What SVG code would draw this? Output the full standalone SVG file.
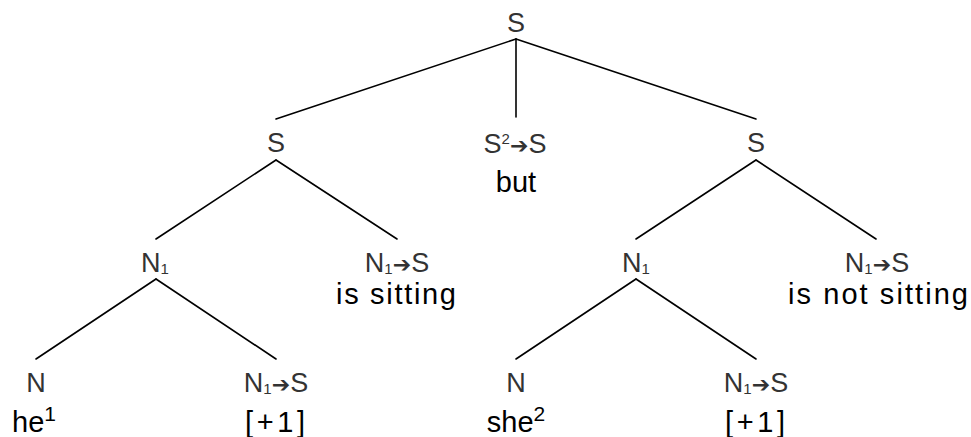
<svg xmlns="http://www.w3.org/2000/svg" width="971" height="437" viewBox="0 0 971 437">
<style>
.lab{font-family:"Liberation Sans",Arial,sans-serif;font-size:27px;fill:#333;text-anchor:middle}
.word{font-family:"Liberation Sans",Arial,sans-serif;font-size:29px;fill:#000;text-anchor:middle}
.sub{font-size:15px}
.sup{font-size:15px}
.wsup{font-size:21px}
.arr{font-family:"DejaVu Sans",sans-serif;font-size:22px}
#edges line{stroke:#000;stroke-width:1.6;stroke-linecap:round}
</style>
<rect width="971" height="437" fill="#fff"/>
<g id="edges">
<line x1="516" y1="39" x2="276" y2="119"/>
<line x1="516" y1="39" x2="516" y2="117"/>
<line x1="516" y1="39" x2="756" y2="119"/>
<line x1="276" y1="160" x2="156" y2="239"/>
<line x1="276" y1="160" x2="397" y2="239"/>
<line x1="756" y1="160" x2="636" y2="239"/>
<line x1="756" y1="160" x2="876" y2="239"/>
<line x1="156" y1="279" x2="36" y2="359"/>
<line x1="156" y1="279" x2="276" y2="359"/>
<line x1="636" y1="279" x2="516" y2="359"/>
<line x1="636" y1="279" x2="756" y2="359"/>
</g>
<g id="root"><text class="lab" x="516" y="32">S</text></g>
<g id="s-left"><text class="lab" x="276" y="152">S</text></g>
<g id="s-mid">
<text class="lab" x="515" y="153">S<tspan class="sup" dy="-9">2</tspan><tspan class="arr" dy="9">➔</tspan>S</text>
<text class="word" x="516" y="192">but</text>
</g>
<g id="s-right"><text class="lab" x="756" y="152">S</text></g>
<g id="n1-left"><text class="lab" x="155" y="272">N<tspan class="sub" dy="2">1</tspan></text></g>
<g id="vp-left">
<text class="lab" x="397" y="272">N<tspan class="sub" dy="2">1</tspan><tspan class="arr" dy="-2">➔</tspan>S</text>
<text class="word" x="396" y="304" textLength="120" lengthAdjust="spacing">is sitting</text>
</g>
<g id="n1-right"><text class="lab" x="636" y="272">N<tspan class="sub" dy="2">1</tspan></text></g>
<g id="vp-right">
<text class="lab" x="877" y="272">N<tspan class="sub" dy="2">1</tspan><tspan class="arr" dy="-2">➔</tspan>S</text>
<text class="word" x="878" y="304" textLength="180" lengthAdjust="spacing">is not sitting</text>
</g>
<g id="n-he">
<text class="lab" x="36" y="392">N</text>
<text class="word" x="34" y="432">he<tspan class="wsup" dy="-11">1</tspan></text>
</g>
<g id="vp-he">
<text class="lab" x="276" y="392">N<tspan class="sub" dy="2">1</tspan><tspan class="arr" dy="-2">➔</tspan>S</text>
<text class="word" x="275" y="432" textLength="60" lengthAdjust="spacing">[+1]</text>
</g>
<g id="n-she">
<text class="lab" x="516" y="392">N</text>
<text class="word" x="516" y="432">she<tspan class="wsup" dy="-11">2</tspan></text>
</g>
<g id="vp-she">
<text class="lab" x="756" y="392">N<tspan class="sub" dy="2">1</tspan><tspan class="arr" dy="-2">➔</tspan>S</text>
<text class="word" x="755" y="432" textLength="60" lengthAdjust="spacing">[+1]</text>
</g>
</svg>
